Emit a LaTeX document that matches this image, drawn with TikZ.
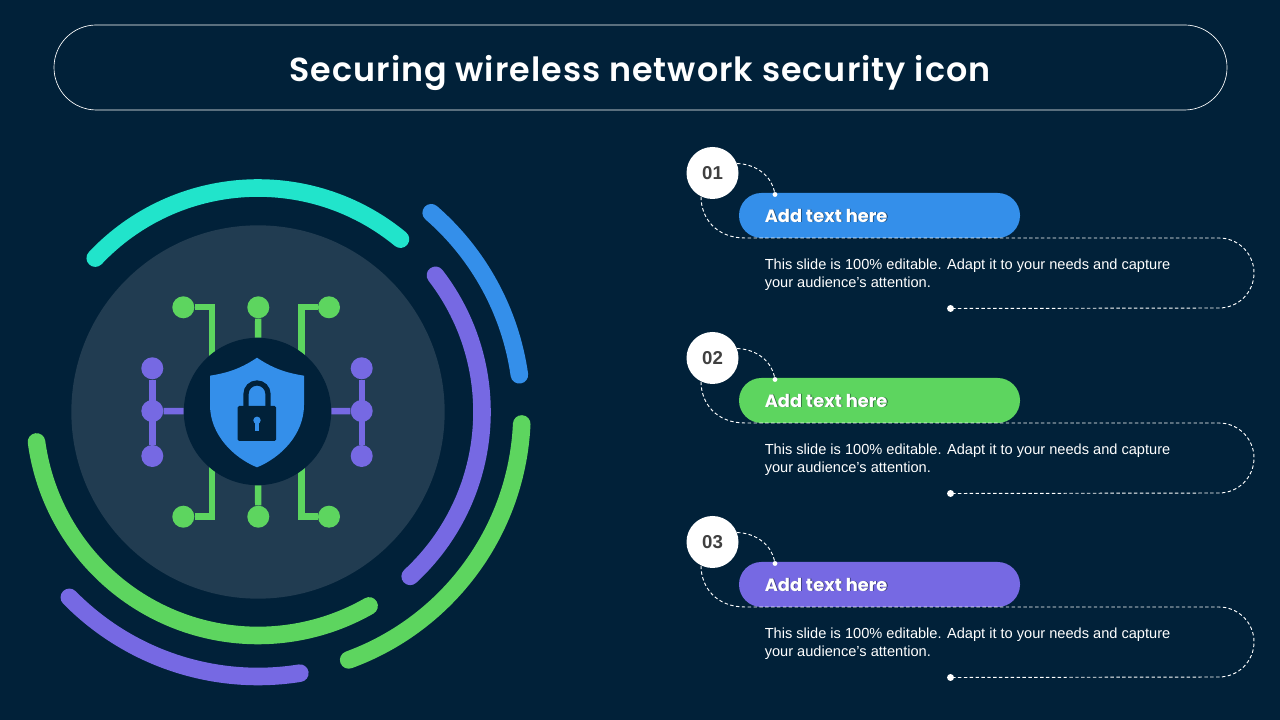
\documentclass[tikz,border=0pt]{standalone}
\usepackage{fontspec}
\setmainfont{Liberation Sans}
\newfontfamily\titlefont[LetterSpace=3,BoldFont={Poppins SemiBold}]{Poppins}
\newfontfamily\headfont{Poppins}
\definecolor{bgc}{HTML}{012139}
\definecolor{discc}{HTML}{213C51}
\definecolor{tealc}{HTML}{21E4CB}
\definecolor{bluec}{HTML}{348FEA}
\definecolor{greenc}{HTML}{5DD55F}
\definecolor{purplec}{HTML}{7669E3}
\definecolor{inkc}{HTML}{404040}
\tikzset{
  ring/.style={line width=13.2pt,line cap=round},
  gdot/.style={circle,fill=greenc,minimum size=16.5pt,inner sep=0pt},
  pdot/.style={circle,fill=purplec,minimum size=16.5pt,inner sep=0pt},
  gwire/.style={draw=greenc,line width=4.8pt},
  pwire/.style={draw=purplec,line width=4.8pt},
  badge/.style={circle,fill=white,minimum size=39pt,inner sep=0pt,font=\bfseries\fontsize{14}{16}\selectfont,text=inkc},
  pill/.style={rounded corners=16.8pt,minimum width=210.75pt,minimum height=33.75pt,inner sep=0pt},
  dashline/.style={draw=white,line width=0.7pt,dash pattern=on 2.6pt off 1.8pt},
  tinydot/.style={circle,fill=white,minimum size=3.6pt,inner sep=0pt},
  enddot/.style={circle,fill=white,minimum size=5.2pt,inner sep=0pt},
  headtext/.style={anchor=west,inner sep=0pt,font=\headfont\bfseries\fontsize{13.4}{16}\selectfont},
}
\begin{document}
\begin{tikzpicture}[x=0.75pt,y=0.75pt]
\useasboundingbox[fill=bgc] (0,0) rectangle (1280,720);
% title
\node[draw=white,line width=0.5pt,rounded corners=31.8pt,minimum width=879.75pt,minimum height=63.75pt,inner sep=0pt] (titlebox) at (640.5,652.5) {};
\node[text=white,font=\titlefont\bfseries\fontsize{25}{30}\selectfont] (title) at (640,647) {Securing wireless network security icon};
% disc
\coordinate (C) at (258,308);
\node[circle,fill=discc,minimum size=280pt,inner sep=0pt] (disc) at (C) {};
% rings
\draw[ring,tealc] (C) ++(136.6:224) arc[start angle=136.6,end angle=50.5,radius=224];
\draw[ring,bluec] (C) ++(49:264) arc[start angle=49,end angle=8.1,radius=264];
\draw[ring,purplec] (C) ++(37.6:224) arc[start angle=37.6,end angle=-47.2,radius=224];
\draw[ring,greenc] (C) ++(-2.6:264) arc[start angle=-2.6,end angle=-69.9,radius=264];
\draw[ring,greenc] (C) ++(187.7:223.5) arc[start angle=187.7,end angle=299.8,radius=223.5];
\draw[ring,purplec] (C) ++(224.5:264.5) arc[start angle=224.5,end angle=279.1,radius=264.5];
% hub
\node[gdot] (gtl) at (183.3,412.7) {};
\node[gdot] (gtm) at (258.3,412.7) {};
\node[gdot] (gtr) at (329,412.7) {};
\node[gdot] (gbl) at (183.3,203.3) {};
\node[gdot] (gbm) at (258.3,203.3) {};
\node[gdot] (gbr) at (329,203.3) {};
\node[pdot] (ptl) at (152.3,351.7) {};
\node[pdot] (pml) at (152.3,309) {};
\node[pdot] (pbl) at (152.3,264) {};
\node[pdot] (ptr) at (361.7,351.7) {};
\node[pdot] (pmr) at (361.7,309) {};
\node[pdot] (pbr) at (361.7,264) {};
\node[circle,minimum size=110.5pt,inner sep=0pt] (hubref) at (257.5,308.5) {};
\draw[gwire] (gtl) -- (211.7,412.7) -- (211.7,345);
\draw[gwire] (gtr) -- (301.5,412.7) -- (301.5,345);
\draw[gwire] (gbl) -- (211.7,203.3) -- (211.7,270);
\draw[gwire] (gbr) -- (301.5,203.3) -- (301.5,270);
\draw[gwire] (gtm) -- (hubref);
\draw[gwire] (gbm) -- (hubref);
\draw[pwire] (ptl) -- (pbl);
\draw[pwire] (ptr) -- (pbr);
\draw[pwire] (pml) -- (hubref);
\draw[pwire] (pmr) -- (hubref);
\node[circle,fill=bgc,minimum size=110.5pt,inner sep=0pt] (hub) at (257.5,308.5) {};
% shield
\fill[bluec] (257,362.3) .. controls (275,350) and (290,346.5) .. (304,344.3)
  -- (304,315) .. controls (304,285) and (280,262) .. (257,252.7)
  .. controls (234,262) and (210,285) .. (210,315) -- (210,344.3)
  .. controls (224,346.5) and (239,350) .. (257,362.3) -- cycle;
% lock
\draw[bgc,line width=3.9pt] (246,312) -- (246,326) arc[start angle=180,end angle=0,radius=11] -- (268,312);
\fill[bgc,rounded corners=1pt] (237.7,279) rectangle (276,314);
\fill[bluec] (257,299.7) circle[radius=3.7];
\fill[bluec] (255,289.3) rectangle (259,299);
% list rows
\foreach \n/\d/\c in {1/0/bluec,2/185/greenc,3/369/purplec}{
  \node[pill,fill=\c] (pill\n) at (879.5,504.5-\d) {};
  \node[tinydot] (d1e\n) at (775,525.5-\d) {};
  \node[badge] (badge\n) at (712.5,547-\d) {0\n};
  \draw[dashline] (badge\n.21) .. controls (758,556-\d) and (772,542-\d) .. (d1e\n);
  \node[enddot] (d2e\n) at (950.5,411.5-\d) {};
  \draw[dashline] (badge\n.244) .. controls (701,502-\d) and (716,482-\d) .. (745,482-\d)
     -- (1219,482-\d) arc[start angle=90,end angle=-90,radius=35] -- (d2e\n);
  \node[headtext,text=black!60!bgc,opacity=0.6] at (765.3,503.7-\d) {Add text here};
  \node[headtext,text=white] (head\n) at (764.5,504.5-\d) {Add text here};
  \node[anchor=north west,align=left,inner sep=0pt,text=white,font=\fontsize{10.95}{13.5}\selectfont] (body\n) at (764.5,461.3-\d) {This slide is 100\% editable. Adapt it to your needs and capture\\your audience's attention.};
}
\end{tikzpicture}
\end{document}
